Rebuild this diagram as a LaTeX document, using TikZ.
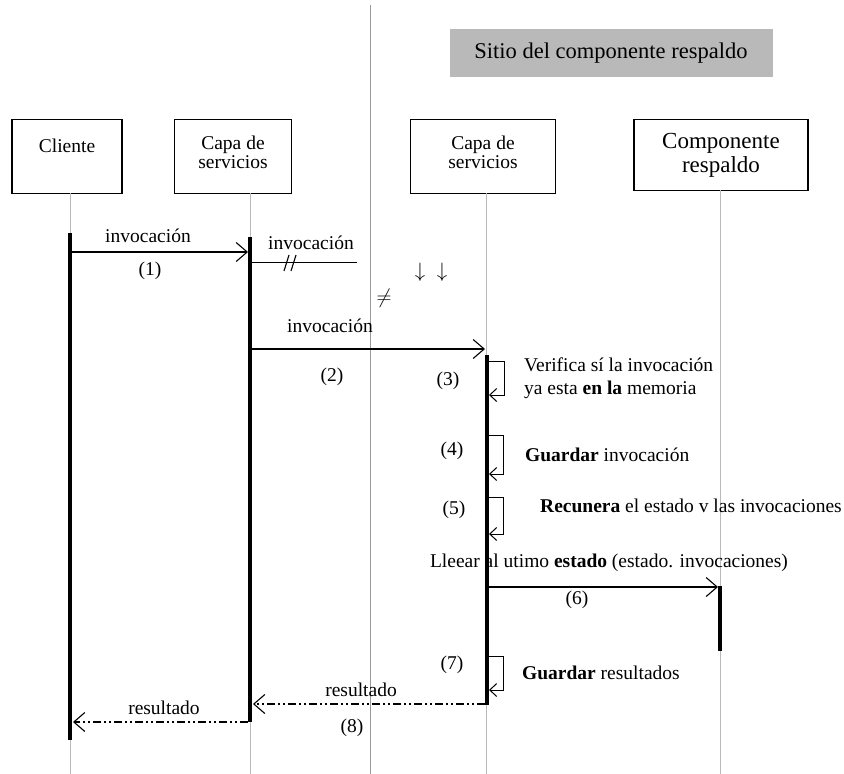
\documentclass[tikz,border=0pt]{standalone}
\usepackage{fontspec}
\setmainfont{Liberation Serif}
\usetikzlibrary{arrows.meta}
\begin{document}
\begin{tikzpicture}[x=1pt,y=-1pt,
  font=\fontsize{19.5}{23}\selectfont,
  objbox/.style={draw,line width=1.2pt,align=center,inner sep=2pt},
  lifeline/.style={draw=gray!55,line width=0.7pt},
  divider/.style={draw=gray!80,line width=0.9pt},
  actbar/.style={line width=4pt},
  msg/.style={line width=1.1pt,-{Straight Barb[length=11pt,width=19pt,line width=1.1pt]}},
  ret/.style={msg,dash pattern=on 8pt off 3pt on 2pt off 3pt on 2pt off 3pt},
  selfcall/.style={line width=1pt,-{Straight Barb[length=7pt,width=13pt,line width=1pt]}},
  lbl/.style={inner sep=1pt},
  note/.style={inner sep=1pt,anchor=west,align=left}]
\useasboundingbox (0,0) rectangle (844,774);

% site divider and site title
\draw[divider] (370,5) -- (370,774);
\node[fill=gray!55,minimum width=323pt,minimum height=48pt,inner sep=0pt] (site) at (611,53)
  {\fontsize{22.5}{26}\selectfont Sitio del componente respaldo};

% participants
\node[objbox,minimum width=110pt,minimum height=74pt,anchor=north] (cli) at (67,119)
  {\raisebox{22pt}{Cliente}};
\node[objbox,minimum width=117pt,minimum height=74pt,anchor=north] (cs1) at (233,119)
  {\raisebox{9pt}{\shortstack{Capa de\\[-1pt]servicios}}};
\node[objbox,minimum width=145pt,minimum height=74pt,anchor=north] (cs2) at (483,119)
  {\raisebox{9pt}{\shortstack{Capa de\\[-1pt]servicios}}};
\node[objbox,minimum width=174pt,minimum height=71pt,anchor=north] (cmp) at (721,119)
  {\fontsize{23}{27}\selectfont\shortstack{Componente\\respaldo}};

% lifelines
\coordinate (cliE) at (70,774);
\coordinate (cs1E) at (250,774);
\coordinate (cs2E) at (486,774);
\coordinate (cmpE) at (720,774);
\draw[lifeline] (70,193) -- (cliE);
\draw[lifeline] (250,193) -- (cs1E);
\draw[lifeline] (486,193) -- (cs2E);
\draw[lifeline] (720,190) -- (cmpE);

% activation bars
\coordinate (cliA) at (70,233);  \coordinate (cliB) at (70,740);
\coordinate (cs1A) at (250,237); \coordinate (cs1B) at (250,722);
\coordinate (cs2A) at (487,355); \coordinate (cs2B) at (487,705);
\coordinate (cmpA) at (720,586); \coordinate (cmpB) at (720,651);
\draw[actbar] (cliA) -- (cliB);
\draw[actbar] (cs1A) -- (cs1B);
\draw[actbar] (cs2A) -- (cs2B);
\draw[actbar] (cmpA) -- (cmpB);

% (1) invocation from client
\coordinate (m1s) at (72,252); \coordinate (m1e) at (248,252);
\draw[msg] (m1s) -- (m1e);
\node[lbl] (m1t) at (148,236) {invocación};
\node[lbl] (m1n) at (150,271) {(1)};

% lost invocation
\coordinate (lsts) at (252,262); \coordinate (lste) at (357,262);
\draw[line width=1pt] (lsts) -- (lste);
\draw[line width=1.1pt] (284,271) -- (289,255) (291,271) -- (296,255);
\node[lbl] (lstt) at (311,243) {invocación};
\node[lbl] (arr) at (431,272) {$\downarrow\;\;\downarrow$};
\node[lbl] (neq) at (384,298) {$\neq$};

% (2) invocation forwarded to the backup site
\coordinate (m2s) at (252,349); \coordinate (m2e) at (485,349);
\draw[msg] (m2s) -- (m2e);
\node[lbl] (m2t) at (330,326) {invocación};
\node[lbl] (m2n) at (332,377) {(2)};

% (3) check memory
\coordinate (s3a) at (489,361); \coordinate (s3b) at (489,395);
\draw[selfcall] (s3a) -- (504,361) -- (504,395) -- (s3b);
\node[lbl] (s3n) at (448,381) {(3)};
\node[note] (s3t) at (523,378) {Verifica sí la invocación\\ya esta \textbf{en la} memoria};

% (4) store invocation
\coordinate (s4a) at (489,435); \coordinate (s4b) at (489,474);
\draw[selfcall] (s4a) -- (503,435) -- (503,474) -- (s4b);
\node[lbl] (s4n) at (452,451) {(4)};
\node[note] (s4t) at (524,455) {\textbf{Guardar} invocación};

% (5) recover state
\coordinate (s5a) at (489,497); \coordinate (s5b) at (489,534);
\draw[selfcall] (s5a) -- (503,497) -- (503,534) -- (s5b);
\node[lbl] (s5n) at (454,510) {(5)};
\node[note] (s5t) at (539,506) {\textbf{Recunera} el estado v las invocaciones};

% (6) bring backup to last state
\coordinate (m6s) at (489,587); \coordinate (m6e) at (718,587);
\draw[msg] (m6s) -- (m6e);
\node[lbl] (m6t) at (609,563) {Lleear al utimo \textbf{estado} (estado. invocaciones)};
\node[lbl] (m6n) at (577,600) {(6)};

% (7) store results
\coordinate (s7a) at (489,656); \coordinate (s7b) at (489,690);
\draw[selfcall] (s7a) -- (503,656) -- (503,690) -- (s7b);
\node[lbl] (s7n) at (452,665) {(7)};
\node[note] (s7t) at (521,673) {\textbf{Guardar} resultados};

% (8) results back to the client
\coordinate (r1s) at (485,704); \coordinate (r1e) at (253,704);
\draw[ret] (r1s) -- (r1e);
\node[lbl] (r1t) at (361,690) {resultado};
\coordinate (r2s) at (248,722); \coordinate (r2e) at (73,722);
\draw[ret] (r2s) -- (r2e);
\node[lbl] (r2t) at (164,708) {resultado};
\node[lbl] (m8n) at (352,728) {(8)};
\end{tikzpicture}
\end{document}
